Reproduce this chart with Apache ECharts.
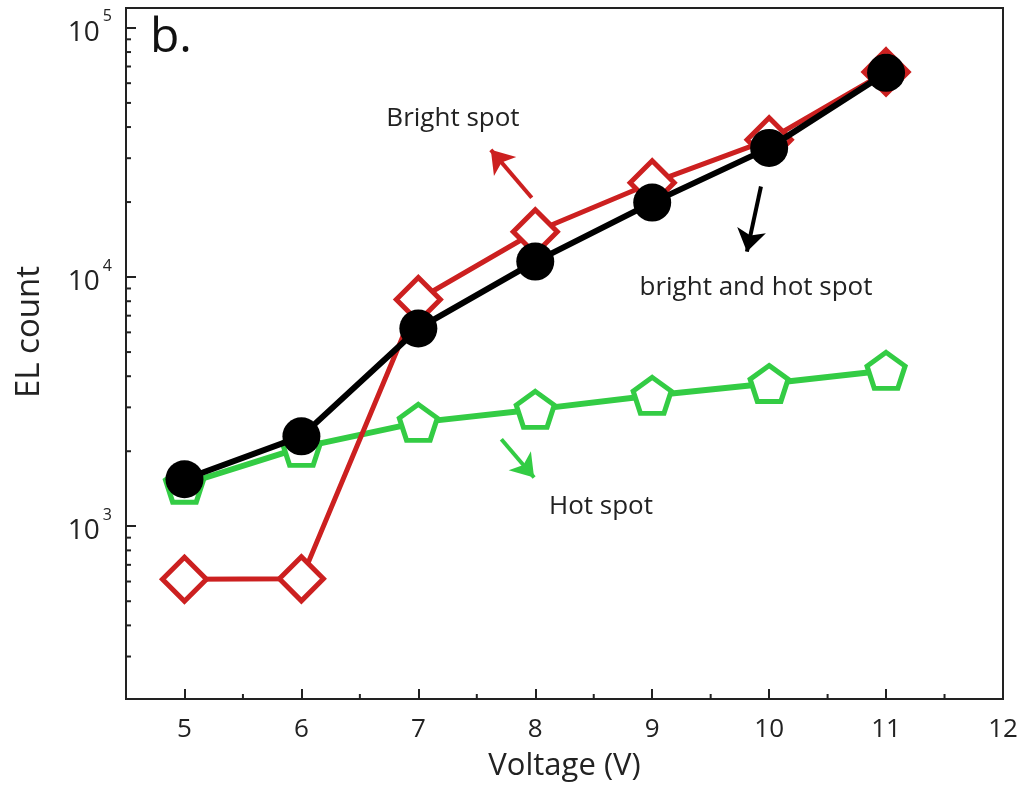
<!DOCTYPE html>
<html>
<head>
<meta charset="utf-8">
<script src="https://cdn.jsdelivr.net/npm/echarts@6/dist/echarts.min.js"></script>
<style>
html,body{margin:0;padding:0;background:#fff;}
#chart{width:1035px;height:787px;}
</style>
</head>
<body>
<div id="chart"></div>
<script>
// ---- data ----
const voltage = [5, 6, 7, 8, 9, 10, 11];
const brightSpot = [613, 615, 8130, 15200, 23900, 35600, 66600];
const brightAndHotSpot = [1543, 2295, 6220, 11540, 19900, 33000, 66000];
const hotSpot = [1474, 2073, 2611, 2944, 3350, 3742, 4220];
const xMinorTicks = [5.5, 6.5, 7.5, 8.5, 9.5, 10.5, 11.5];
const yMinorTicks = [300, 400, 500, 600, 700, 800, 900,
  2000, 3000, 4000, 5000, 6000, 7000, 8000, 9000,
  20000, 30000, 40000, 50000, 60000, 70000, 80000, 90000];
const xRange = [4.5, 12];
const yRange = [202.6, 120200];
// annotation arrows in data coordinates [from, to]
const brightArrow = [[7.97, 20800], [7.62, 32400]];
const bothArrow = [[9.93, 23100], [9.81, 12650]];
const hotArrow = [[7.71, 2234], [7.99, 1570]];

const RED = '#cc2020';
const GREEN = '#33cc44';
const BLACK = '#000000';
const FONT = 'Open Sans';

const pentagon = 'path://M0,-10 L9.511,-3.09 L5.878,8.09 L-5.878,8.09 L-9.511,-3.09 Z';

function arrowLine(pair, color) {
  return {
    silent: true,
    animation: false,
    symbol: ['none', 'arrow'],
    symbolSize: 22,
    label: { show: false },
    lineStyle: { color: color, width: 4, type: 'solid', opacity: 1 },
    itemStyle: { color: color },
    emphasis: { disabled: true },
    data: [[
      { coord: pair[0], symbol: 'none' },
      { coord: pair[1], symbol: 'arrow', symbolSize: 22 }
    ]]
  };
}

const chart = echarts.init(document.getElementById('chart'));
const option = {
  animation: false,
  backgroundColor: '#fff',
  grid: {
    left: 126, top: 8, right: 32, bottom: 87,
    show: true, borderColor: '#222', borderWidth: 2, backgroundColor: 'transparent'
  },
  xAxis: {
    type: 'value',
    min: xRange[0], max: xRange[1],
    splitNumber: 8,
    name: 'Voltage (V)',
    nameLocation: 'middle',
    nameGap: 52,
    nameTextStyle: { fontFamily: FONT, fontSize: 31, color: '#222' },
    axisLine: { show: true, lineStyle: { color: '#222', width: 2 } },
    axisTick: { show: true, inside: true, length: 10, lineStyle: { color: '#222', width: 2 } },
    axisLabel: {
      fontFamily: FONT, fontSize: 26, color: '#222', margin: 18,
      showMinLabel: false
    },
    splitLine: { show: false }
  },
  yAxis: {
    type: 'log',
    logBase: 10,
    min: yRange[0], max: yRange[1],
    axisLine: { show: true, lineStyle: { color: '#222', width: 2 } },
    axisTick: { show: true, inside: true, length: 10, lineStyle: { color: '#222', width: 2 } },
    axisLabel: {
      showMinLabel: false, showMaxLabel: false,
      margin: 14,
      color: '#222',
      fontFamily: FONT,
      fontSize: 28,
      formatter: function (v) {
        const e = Math.round(Math.log10(v));
        return '{b|10}{s|' + e + '}';
      },
      rich: {
        b: { fontFamily: FONT, fontSize: 28, color: '#222', padding: [10, 0, 0, 0] },
        s: { fontFamily: FONT, fontSize: 16, color: '#222', verticalAlign: 'top', padding: [0, 0, 0, 3] }
      }
    },
    splitLine: { show: false }
  },
  graphic: [
    { type: 'text', left: 150, top: 14, style: { text: 'b.', font: '48px "Open Sans"', fill: '#111' } },
    { type: 'text', x: 30, y: 332, rotation: Math.PI / 2,
      style: { text: 'EL count', font: '33px "Open Sans"', fill: '#222', textAlign: 'center', textVerticalAlign: 'middle' } },
    { type: 'text', x: 453, y: 119,
      style: { text: 'Bright spot', font: '26px "Open Sans"', fill: '#222', textAlign: 'center', textVerticalAlign: 'middle' } },
    { type: 'text', x: 756, y: 288,
      style: { text: 'bright and hot spot', font: '26px "Open Sans"', fill: '#222', textAlign: 'center', textVerticalAlign: 'middle' } },
    { type: 'text', x: 601, y: 507,
      style: { text: 'Hot spot', font: '26px "Open Sans"', fill: '#222', textAlign: 'center', textVerticalAlign: 'middle' } }
  ],
  series: [
    {
      type: 'custom',
      name: 'xMinor',
      silent: true,
      z: 1,
      data: xMinorTicks.map(v => [v, 1000]),
      renderItem: function (params, api) {
        const p = api.coord([api.value(0), api.value(1)]);
        const cs = params.coordSys;
        const yb = cs.y + cs.height;
        return { type: 'line', shape: { x1: p[0], y1: yb, x2: p[0], y2: yb - 5 },
          style: { stroke: '#222', lineWidth: 2 } };
      }
    },
    {
      type: 'custom',
      name: 'yMinor',
      silent: true,
      z: 1,
      data: yMinorTicks.map(v => [5, v]),
      renderItem: function (params, api) {
        const p = api.coord([api.value(0), api.value(1)]);
        const cs = params.coordSys;
        return { type: 'line', shape: { x1: cs.x, y1: p[1], x2: cs.x + 5, y2: p[1] },
          style: { stroke: '#222', lineWidth: 2 } };
      }
    },
    {
      type: 'line',
      name: 'Hot spot',
      z: 2,
      data: voltage.map((x, i) => [x, hotSpot[i]]),
      symbol: pentagon,
      symbolSize: [38, 36],
      lineStyle: { color: GREEN, width: 6 },
      itemStyle: { color: '#fff', borderColor: GREEN, borderWidth: 5 },
      markLine: arrowLine(hotArrow, GREEN)
    },
    {
      type: 'line',
      name: 'Bright spot',
      z: 3,
      data: voltage.map((x, i) => [x, brightSpot[i]]),
      symbol: 'diamond',
      symbolSize: 44,
      lineStyle: { color: RED, width: 5 },
      itemStyle: { color: '#fff', borderColor: RED, borderWidth: 5 },
      markLine: arrowLine(brightArrow, RED)
    },
    {
      type: 'line',
      name: 'bright and hot spot',
      z: 4,
      data: voltage.map((x, i) => [x, brightAndHotSpot[i]]),
      symbol: 'circle',
      symbolSize: 38,
      lineStyle: { color: BLACK, width: 6 },
      itemStyle: { color: BLACK, borderColor: BLACK, borderWidth: 0 },
      markLine: arrowLine(bothArrow, BLACK)
    }
  ]
};
chart.setOption(option);
</script>
</body>
</html>
